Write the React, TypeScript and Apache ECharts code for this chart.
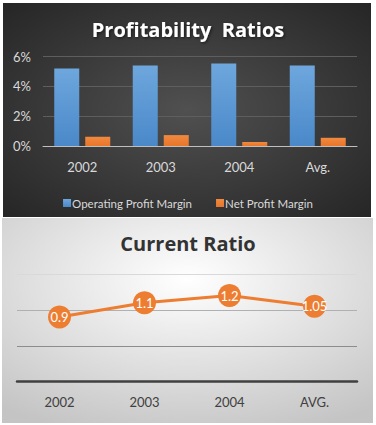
import React, { useEffect, useRef } from "react";
import * as echarts from "echarts";

const profitCategories = ["2002", "2003", "2004", "Avg."];
const operatingMargin = [5.2, 5.4, 5.53, 5.4];
const netMargin = [0.62, 0.73, 0.27, 0.55];
const profitTicks = [0, 2, 4, 6];

const currentCategories = ["2002", "2003", "2004", "AVG."];
const currentRatio = [0.9, 1.1, 1.2, 1.05];

const FONT = "'Open Sans', 'Noto Sans', sans-serif";
const SMALL = "Lato, 'Open Sans', sans-serif";

export default function App() {
  const ref = useRef<HTMLDivElement>(null);
  useEffect(() => {
    document.body.style.margin = "0";
    const chart = echarts.init(ref.current!, null, { renderer: "svg" });
    chart.setOption({
      animation: false,
      backgroundColor: "#ffffff",
      graphic: [
        {
          type: "rect",
          z: -10,
          shape: { x: 3, y: 3, width: 368, height: 214 },
          style: {
            fill: new echarts.graphic.RadialGradient(0.5, 0.5, 0.75, [
              { offset: 0, color: "#505050" },
              { offset: 1, color: "#232323" },
            ]),
          },
        },
        {
          type: "rect",
          z: -10,
          shape: { x: 2, y: 218, width: 371, height: 205 },
          style: {
            fill: new echarts.graphic.RadialGradient(0.5, 0.3, 0.8, [
              { offset: 0, color: "#ffffff" },
              { offset: 1, color: "#c4c4c4" },
            ]),
          },
        },
      ],
      title: [
        {
          text: "Profitability  Ratios",
          left: "center",
          top: 14,
          textStyle: {
            color: "#ffffff",
            fontSize: 20,
            fontWeight: "bold",
            fontFamily: FONT,
            textShadowColor: "rgba(0,0,0,0.6)",
            textShadowBlur: 3,
            textShadowOffsetX: 1,
            textShadowOffsetY: 1,
          },
        },
        {
          text: "Current Ratio",
          left: "center",
          top: 228,
          textStyle: {
            color: "#333333",
            fontSize: 20,
            fontWeight: "bold",
            fontFamily: FONT,
          },
        },
      ],
      legend: {
        data: ["Operating Profit Margin", "Net Profit Margin"],
        top: 192,
        left: "center",
        itemWidth: 8,
        itemHeight: 8,
        itemGap: 24,
        icon: "rect",
        textStyle: { color: "#d9d9d9", fontSize: 11.5, fontFamily: SMALL, padding: [0, 0, 0, -4] },
      },
      grid: [
        { left: 43, right: 19, top: 56.5, bottom: 279, containLabel: false },
        { left: 17, right: 19, top: 274, bottom: 43.3, containLabel: false },
      ],
      xAxis: [
        {
          type: "category",
          gridIndex: 0,
          data: profitCategories,
          axisLine: { lineStyle: { color: "#bfbfbf", width: 1 } },
          axisTick: { show: false },
          axisLabel: { color: "#d9d9d9", fontSize: 13, margin: 14, fontFamily: SMALL },
        },
        {
          type: "category",
          gridIndex: 1,
          data: currentCategories,
          axisLine: { lineStyle: { color: "#404040", width: 2.5 } },
          axisTick: { show: false },
          axisLabel: { color: "#404040", fontSize: 13, margin: 14, fontFamily: SMALL },
        },
      ],
      yAxis: [
        {
          type: "value",
          gridIndex: 0,
          min: profitTicks[0],
          max: profitTicks[profitTicks.length - 1],
          interval: 2,
          axisLine: { show: false },
          axisTick: { show: false },
          axisLabel: {
            color: "#d9d9d9",
            fontSize: 13,
            margin: 12,
            fontFamily: SMALL,
            formatter: "{value}%",
          },
          splitLine: { lineStyle: { color: "#5e5e5e", width: 1 } },
        },
        {
          type: "value",
          gridIndex: 1,
          min: 0,
          max: 1.5,
          interval: 0.5,
          axisLine: { show: false },
          axisTick: { show: false },
          axisLabel: { show: false },
          splitLine: {
            lineStyle: { color: ["#404040", "#8c8c8c", "#b0b0b0", "#d9d9d9"], width: 1 },
          },
        },
      ],
      series: [
        {
          name: "Operating Profit Margin",
          type: "bar",
          xAxisIndex: 0,
          yAxisIndex: 0,
          data: operatingMargin,
          barWidth: 25,
          barGap: "24%",
          itemStyle: {
            color: new echarts.graphic.LinearGradient(0, 0, 0, 1, [
              { offset: 0, color: "#6ea7dd" },
              { offset: 1, color: "#4a88c9" },
            ]),
          },
        },
        {
          name: "Net Profit Margin",
          type: "bar",
          xAxisIndex: 0,
          yAxisIndex: 0,
          data: netMargin,
          barWidth: 25,
          barGap: "24%",
          itemStyle: {
            color: new echarts.graphic.LinearGradient(0, 0, 0, 1, [
              { offset: 0, color: "#f08a40" },
              { offset: 1, color: "#e8752a" },
            ]),
          },
        },
        {
          name: "Current Ratio",
          type: "line",
          xAxisIndex: 1,
          yAxisIndex: 1,
          data: currentRatio,
          symbol: "circle",
          symbolSize: 23,
          lineStyle: { color: "#ed7d31", width: 3 },
          itemStyle: { color: "#ed7d31" },
          label: {
            show: true,
            position: "inside",
            color: "#ffffff",
            fontSize: 13,
            fontFamily: SMALL,
          },
        },
      ],
    });
    return () => chart.dispose();
  }, []);
  return <div ref={ref} style={{ width: 376, height: 425 }} />;
}
